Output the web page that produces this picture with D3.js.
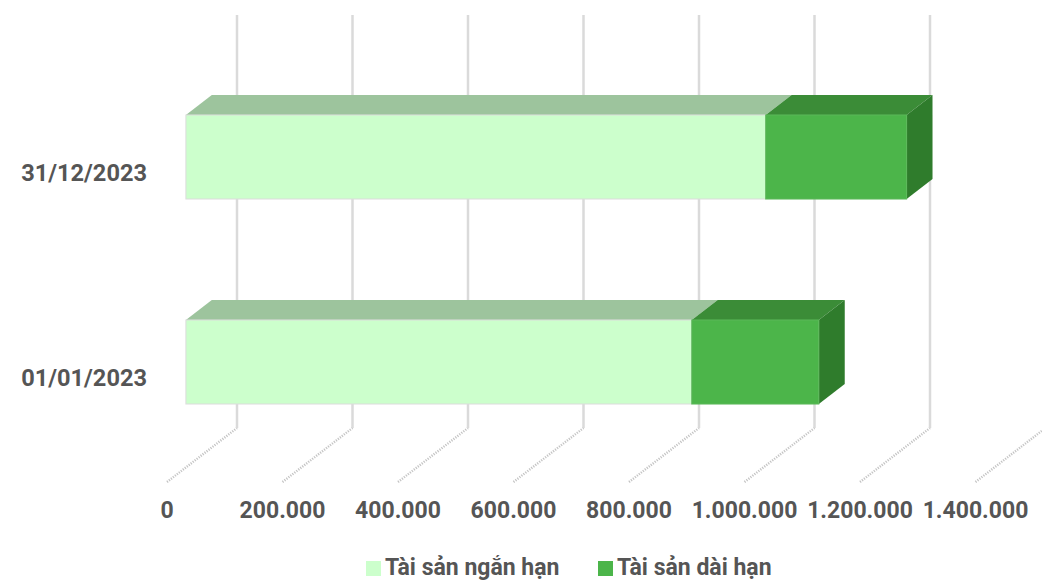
<!DOCTYPE html>
<html>
<head>
<meta charset="utf-8">
<script src="https://cdn.jsdelivr.net/npm/d3@7/dist/d3.min.js"></script>
<style>
  html, body { margin: 0; padding: 0; background: #fff; }
  svg { display: block; }
  text { font-family: Roboto, "Open Sans", sans-serif; font-weight: 700; fill: #555; }
</style>
</head>
<body>
<svg id="chart" width="1042" height="580"></svg>
<script>
// Balance sheet structure (million VND)
const categories = ["31/12/2023", "01/01/2023"];
const seriesNames = ["Tài sản ngắn hạn", "Tài sản dài hạn"];
const shortTermAssets = [1004000, 876000];
const longTermAssets = [244000, 220000];
const tickValues = [0, 200000, 400000, 600000, 800000, 1000000, 1200000, 1400000];

const frontColors = ["#ccffcc", "#4cb54a"];
const topColors = ["#9dc49d", "#3b8c37"];
const sideColor = "#2f7c2c";

const svg = d3.select("#chart");

// Front edge of the floor; depth is projected up and to the right.
const originX = 167, floorY = 482;
const depthDX = 70, depthDY = -54;
const barFrontT = 0.27, barBackT = 0.64;

const x = d3.scaleLinear().domain([0, 1400000]).range([0, 808.5]);
const y = d3.scaleBand().domain(categories).range([54.5, 464.5])
  .paddingInner(0.59).paddingOuter(0.295);

const proj = (v, t) => [originX + x(v) + depthDX * t, depthDY * t];

const fmt = v => d3.format(",")(v).replace(/,/g, ".");

// Floor lines (dotted) and back wall grid lines
const grid = svg.append("g");
grid.selectAll("line.floor").data(tickValues).join("line")
  .attr("class", "floor")
  .attr("x1", d => originX + x(d)).attr("y1", floorY)
  .attr("x2", d => originX + x(d) + depthDX).attr("y2", floorY + depthDY)
  .attr("stroke", "#c4c4c4").attr("stroke-width", 2.4)
  .attr("stroke-dasharray", "1.2,1.3");
grid.selectAll("line.wall").data(tickValues).join("line")
  .attr("class", "wall")
  .attr("x1", d => originX + x(d) + depthDX).attr("y1", floorY + depthDY)
  .attr("x2", d => originX + x(d) + depthDX).attr("y2", 15)
  .attr("stroke", "#dadada").attr("stroke-width", 2.5);

// Stacked 3D bars
const stackData = categories.map((c, i) => ({
  cat: c,
  segs: [
    { s: 0, e: shortTermAssets[i], k: 0 },
    { s: shortTermAssets[i], e: shortTermAssets[i] + longTermAssets[i], k: 1 }
  ]
}));

const bars = svg.append("g");
stackData.forEach(row => {
  const top = y(row.cat), h = y.bandwidth();
  const g = bars.append("g");
  row.segs.forEach((sg, idx) => {
    const [fx1, fdy] = proj(sg.s, barFrontT);
    const [fx2] = proj(sg.e, barFrontT);
    const [bx1, bdy] = proj(sg.s, barBackT);
    const [bx2] = proj(sg.e, barBackT);
    const yt = top + fdy + (0.27 * 54); // front face top aligned to band
    const yb = yt + h;
    const ydepth = bdy - fdy;
    // top face
    g.append("path")
      .attr("d", `M${fx1},${yt}L${fx2},${yt}L${bx2},${yt + ydepth}L${bx1},${yt + ydepth}Z`)
      .attr("fill", topColors[sg.k]);
    // right side face on the last segment
    if (idx === row.segs.length - 1) {
      g.append("path")
        .attr("d", `M${fx2},${yt}L${bx2},${yt + ydepth}L${bx2},${yb + ydepth}L${fx2},${yb}Z`)
        .attr("fill", sideColor);
    }
    // front face
    g.append("rect")
      .attr("x", fx1).attr("y", yt)
      .attr("width", fx2 - fx1).attr("height", h)
      .attr("fill", frontColors[sg.k])
      .attr("stroke", sg.k === 0 ? "#dcdcdc" : "#5cb85a").attr("stroke-width", 1);
  });
});

// Category labels
svg.append("g").selectAll("text").data(categories).join("text")
  .attr("x", 147)
  .attr("y", d => y(d) + y.bandwidth() / 2 + 24)
  .attr("text-anchor", "end")
  .attr("font-size", 23.6)
  .text(d => d);

// Value axis labels along the floor's front edge
svg.append("g").selectAll("text").data(tickValues).join("text")
  .attr("x", d => originX + x(d))
  .attr("y", 518)
  .attr("text-anchor", "middle")
  .attr("font-size", 23)
  .text(d => fmt(d));

// Legend
const legendItems = [
  { name: seriesNames[0], color: frontColors[0], x: 366 },
  { name: seriesNames[1], color: frontColors[1], x: 598 }
];
const lg = svg.append("g").selectAll("g").data(legendItems).join("g")
  .attr("transform", d => `translate(${d.x},0)`);
lg.append("rect").attr("x", 0).attr("y", 561).attr("width", 15).attr("height", 15)
  .attr("fill", d => d.color);
lg.append("text").attr("x", 19).attr("y", 575).attr("font-size", 23)
  .text(d => d.name);
</script>
</body>
</html>
